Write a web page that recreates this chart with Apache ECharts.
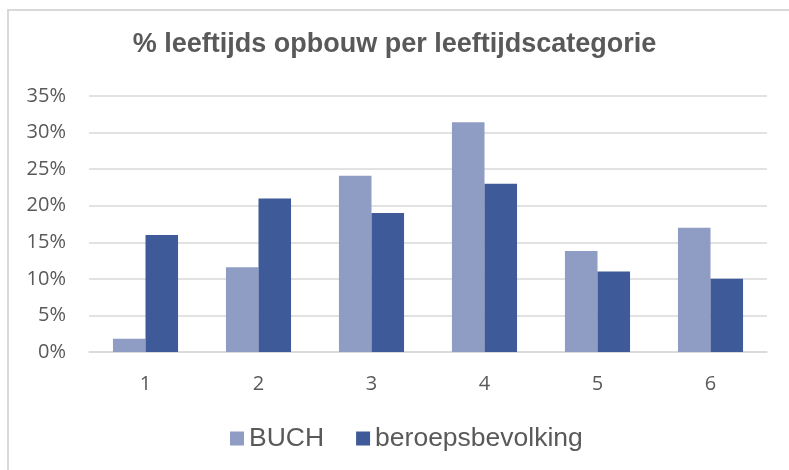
<!DOCTYPE html>
<html>
<head>
<meta charset="utf-8">
<script src="https://cdn.jsdelivr.net/npm/echarts@6/dist/echarts.min.js"></script>
<style>
  html, body { margin: 0; padding: 0; background: #fff; }
  #chart { width: 789px; height: 470px; }
</style>
</head>
<body>
<div id="chart"></div>
<script>
var categories = ['1', '2', '3', '4', '5', '6'];
var buch = [1.8, 11.6, 24.1, 31.4, 13.8, 17.0];
var beroepsbevolking = [16, 21, 19, 23, 11, 10];
var yTicks = [0, 5, 10, 15, 20, 25, 30, 35];

function initChart(){
  var myChart = echarts.init(document.getElementById('chart'));
  var option = {
    backgroundColor: '#fff',
    animation: false,
    title: {
      text: '% leeftijds opbouw per leeftijdscategorie',
      left: 'center',
      top: 26,
      textStyle: {
        fontFamily: '"Liberation Sans", Arial, sans-serif',
        fontSize: 27,
        fontWeight: 'bold',
        color: '#595959'
      }
    },
    graphic: [{
      type: 'rect',
      shape: { x: 8, y: 10, width: 820, height: 500 },
      style: { fill: 'none', stroke: '#d9d9d9', lineWidth: 2 },
      silent: true
    }],
    legend: {
      top: 420,
      left: 225,
      itemWidth: 14,
      itemHeight: 14,
      itemGap: 32,
      icon: 'rect',
      textStyle: {
        fontFamily: '"Liberation Sans", Arial, sans-serif',
        fontSize: 26.5,
        color: '#595959'
      },
      data: ['BUCH', 'beroepsbevolking']
    },
    grid: {
      left: 89,
      right: 22,
      top: 96,
      bottom: 118
    },
    xAxis: {
      type: 'category',
      data: categories,
      axisLine: { lineStyle: { color: '#d9d9d9', width: 1.5 } },
      axisTick: { show: false },
      axisLabel: {
        margin: 22,
        fontFamily: '"Open Sans", sans-serif',
        fontSize: 20,
        color: '#595959'
      }
    },
    yAxis: {
      type: 'value',
      min: yTicks[0],
      max: yTicks[yTicks.length - 1],
      interval: 5,
      axisLine: { show: false },
      axisTick: { show: false },
      splitLine: { lineStyle: { color: '#d9d9d9', width: 1.5 } },
      axisLabel: {
        margin: 23,
        fontFamily: '"Open Sans", sans-serif',
        fontSize: 20,
        color: '#595959',
        formatter: function(v){ return v + '%'; }
      }
    },
    series: [{
      name: 'BUCH',
      type: 'bar',
      data: buch,
      barWidth: '28.8%',
      barGap: '0%',
      itemStyle: { color: '#8f9cc3' }
    }, {
      name: 'beroepsbevolking',
      type: 'bar',
      data: beroepsbevolking,
      barWidth: '28.8%',
      barGap: '0%',
      itemStyle: { color: '#3f5a98' }
    }]
  };
  myChart.setOption(option);
}

initChart();
</script>
</body>
</html>
